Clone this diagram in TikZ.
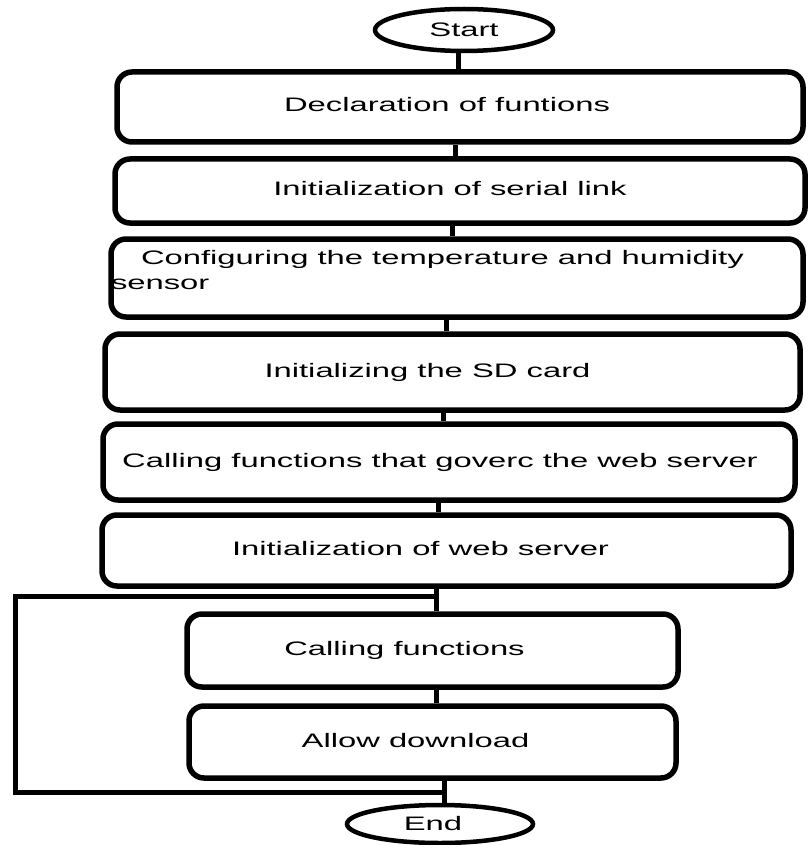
\documentclass[tikz,border=0pt]{standalone}
\usepackage{fontspec}
\setmainfont{Liberation Sans}[FakeStretch=1.68]
\usetikzlibrary{shapes.geometric}
\tikzset{
process/.style={
  draw, rectangle, rounded corners=15pt,
  line width=5.5pt, inner sep=0pt,
  text height=14pt, text depth=4pt,
  font=\fontsize{19.5}{25}\selectfont
},
terminal/.style={
  draw, ellipse, line width=4.5pt, inner sep=0pt,
  font=\fontsize{19.5}{25}\selectfont
},
link/.style={line width=5pt},
}
\newcommand{\nudge}[2]{\hspace*{#1}#2\hspace*{-#1}}

\begin{document}
\begin{tikzpicture}[x=1pt,y=-1pt]
            \useasboundingbox (0,0) rectangle (807,845);
            \node[terminal, minimum width=178pt, minimum height=42pt] (start) at (464,30) {Start};
            \node[process, minimum width=686pt, minimum height=70pt] (decl) at (460,107) {\nudge{-13pt}{Declaration of funtions}};
            \node[process, minimum width=690pt, minimum height=64pt] (serial) at (460,191) {\nudge{-10pt}{Initialization of serial link}};
            \node[process, minimum width=692pt, text width=692pt, align=flush left,
                  text height=25pt, text depth=53pt] (sensor) at (457,278)
                  {\hspace*{30pt}Configuring the temperature and humidity\\sensor};
            \node[process, minimum width=695pt, minimum height=76pt] (sdcard) at (452.5,372) {\nudge{-25pt}{Initializing the SD card}};
            \node[process, minimum width=692pt, minimum height=76pt] (webcall) at (449,462) {\nudge{-9pt}{Calling functions that goverc the web server}};
            \node[process, minimum width=689pt, minimum height=71pt] (webinit) at (446.5,550.5) {\nudge{-26pt}{Initialization of web server}};
            \node[process, minimum width=491pt, minimum height=73pt] (callfn) at (432.5,650.5) {\nudge{-28pt}{Calling functions}};
            \node[process, minimum width=487pt, minimum height=72pt] (download) at (432.5,742) {\nudge{-17pt}{Allow download}};
            \node[terminal, minimum width=186pt, minimum height=38pt] (stop) at (440,824) {\nudge{-7pt}{End}};

            % vertical links
            \draw[link] (start.south -| 458,0) -- (decl.north -| 458,0);
            \draw[link] (decl.south -| 455,0) -- (serial.north -| 455,0);
            \draw[link] (serial.south -| 452,0) -- (sensor.north -| 452,0);
            \draw[link] (sensor.south -| 446,0) -- (sdcard.north -| 446,0);
            \draw[link] (sdcard.south -| 443,0) -- (webcall.north -| 443,0);
            \draw[link] (webcall.south -| 438,0) -- (webinit.north -| 438,0);
            \draw[link] (webinit.south -| 436,0) -- (callfn.north -| 436,0);
            \draw[link] (callfn.south -| 436,0) -- (download.north -| 436,0);
            \draw[link] (download.south -| 444,0) -- (stop.north -| 444,0);

            % loop back
            \coordinate (loopin) at (436,596);
            \coordinate (loopout) at (444,792);
            \draw[link] (loopin) -- ++(-421,0) |- (loopout);
        \end{tikzpicture}
\end{document}
